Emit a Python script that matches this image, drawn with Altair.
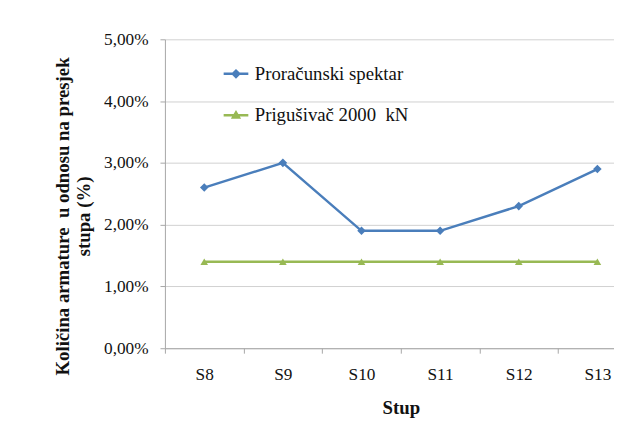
import altair as alt
import pandas as pd

stupovi = ["S8", "S9", "S10", "S11", "S12", "S13"]
proracunski = [0.026, 0.030, 0.019, 0.019, 0.023, 0.029]
prigusivac = [0.014, 0.014, 0.014, 0.014, 0.014, 0.014]
serije = ["Proračunski spektar", "Prigušivač 2000\u00a0 kN"]
boje = ["#4A7EBB", "#98B954"]
y_ticks = [0, 0.01, 0.02, 0.03, 0.04, 0.05]

rows = []
for s, v in zip(stupovi, proracunski):
    rows.append({"stup": s, "vrijednost": v, "serija": serije[0]})
for s, v in zip(stupovi, prigusivac):
    rows.append({"stup": s, "vrijednost": v, "serija": serije[1]})
df = pd.DataFrame(rows)

FONT = "'Liberation Serif', 'Times New Roman', 'DejaVu Serif', serif"

x_enc = alt.X("stup:N", sort=stupovi,
              scale=alt.Scale(type="band", range=[0, 478], paddingInner=0, paddingOuter=0),
              axis=alt.Axis(title="Stup", tickBand="extent", labelAngle=0,
                            labelPadding=13, titlePadding=16, tickSize=5,
                            grid=False, labelFont=FONT))
y_enc = alt.Y("vrijednost:Q",
              scale=alt.Scale(domain=[0, 0.05], nice=False),
              axis=alt.Axis(values=y_ticks, labelFont=FONT,
                            labelExpr="replace(format(datum.value, '.2%'), '.', ',')",
                            title=["Količina armature\u00a0 u odnosu na presjek", "stupa (%)"],
                            titleAngle=-90, titleX=-113, titleY=179,
                            titleAlign="center", titleBaseline="top",
                            titleLineHeight=22, tickSize=5, labelPadding=12))

legend = alt.Legend(orient="none", legendX=58, legendY=21, direction="vertical",
                    title=None, symbolSize=625, symbolStrokeWidth=2.5,
                    labelFont=FONT, labelFontSize=19, labelColor="#111",
                    labelOffset=5, rowPadding=18, padding=0)

base = alt.Chart(df).encode(x=x_enc, y=y_enc)

layers = []
shapes = ["diamond", "triangle-up"]
sizes = [75, 60]
for i in range(2):
    sub = base.transform_filter(alt.datum.serija == serije[i])
    layers.append(sub.mark_line(strokeWidth=2.5, color=boje[i]))
    layers.append(sub.mark_point(shape=shapes[i], filled=True, size=sizes[i],
                                 opacity=1, color=boje[i]))

paths = ["M-1,0H1M-0.26,0L0,-0.26L0.26,0L0,0.26Z",
         "M-1,0H1M-0.24,0.17L0,-0.24L0.24,0.17Z"]

leg = base.mark_point(size=0, strokeWidth=2.5, opacity=1).encode(
    fill=alt.Fill("serija:N", scale=alt.Scale(domain=serije, range=boje), legend=legend),
    stroke=alt.Stroke("serija:N", scale=alt.Scale(domain=serije, range=boje), legend=legend),
    shape=alt.Shape("serija:N", scale=alt.Scale(domain=serije, range=paths), legend=legend))
layers.append(leg)

chart = alt.layer(*layers).properties(
    width=455, height=313,
    padding={"left": 159, "top": 29, "right": 0, "bottom": 70},
    autosize=alt.AutoSizeParams(type="none"),
    background="white",
).configure_view(stroke=None).configure_axis(
    labelFont=FONT, labelFontSize=17.5, labelColor="#111",
    titleFont=FONT, titleFontSize=19, titleFontWeight="bold", titleColor="#111",
    gridColor="#d0d0d0", domainColor="#a6a6a6", tickColor="#a6a6a6",
).configure_legend(
    labelFont=FONT, labelFontSize=19, labelColor="#111",
)

chart.save("out.html", embed_options={"renderer": "svg", "actions": False})
